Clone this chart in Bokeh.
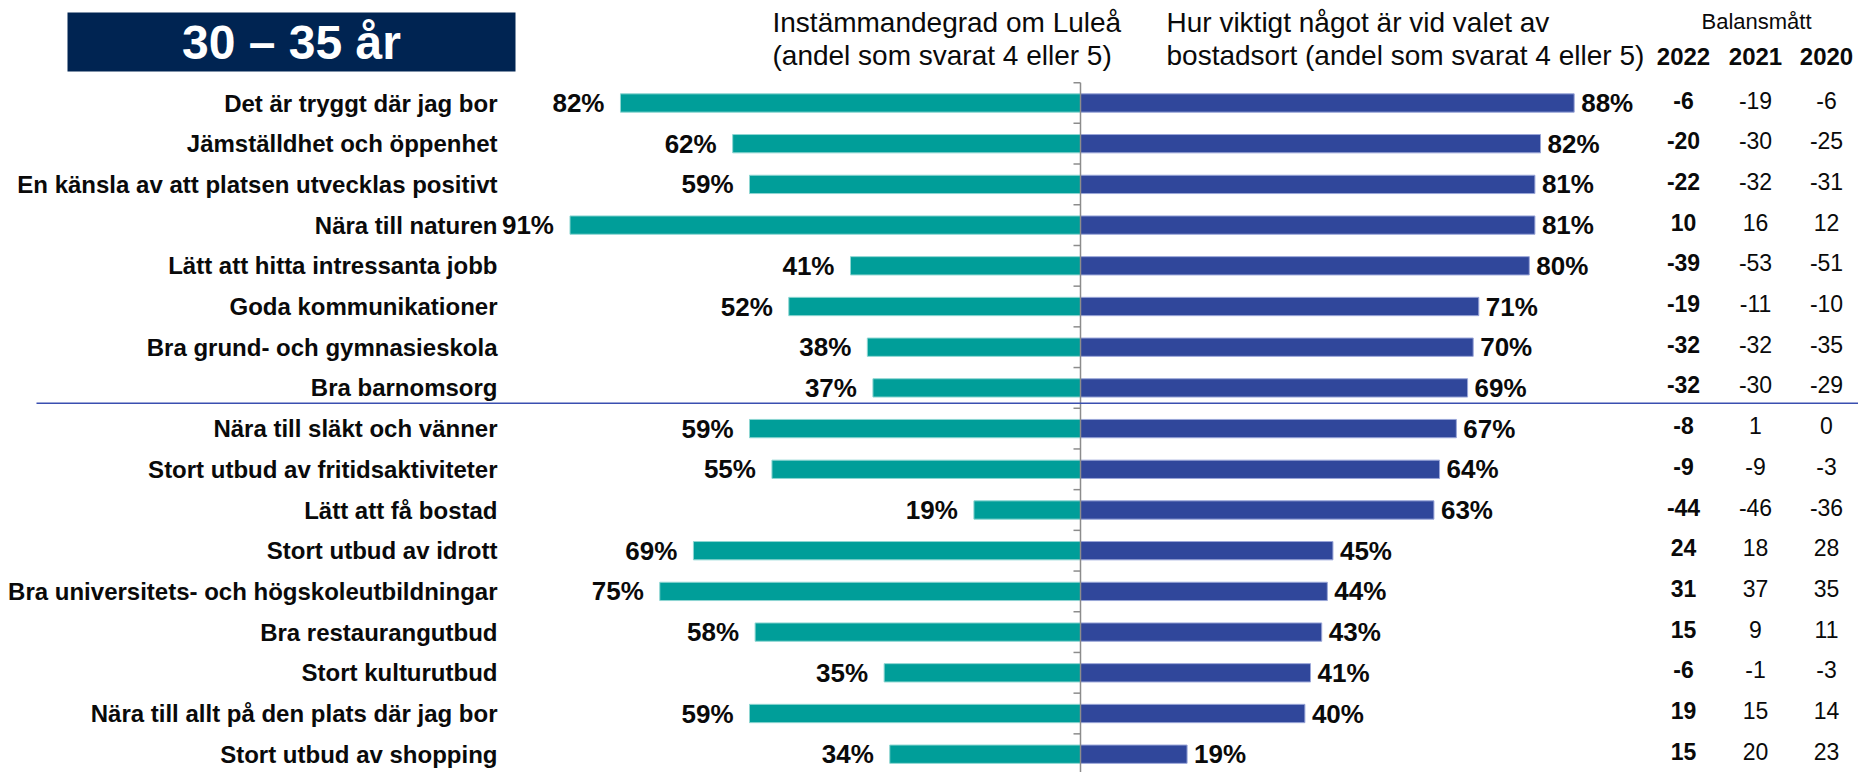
from bokeh.plotting import figure
from bokeh.models import Range1d, ColumnDataSource
from bokeh.embed import file_html
from bokeh.resources import INLINE
from bokeh.core.properties import value

# ---------------- data ----------------
categories = [
    "Det är tryggt där jag bor",
    "Jämställdhet och öppenhet",
    "En känsla av att platsen utvecklas positivt",
    "Nära till naturen",
    "Lätt att hitta intressanta jobb",
    "Goda kommunikationer",
    "Bra grund- och gymnasieskola",
    "Bra barnomsorg",
    "Nära till släkt och vänner",
    "Stort utbud av fritidsaktiviteter",
    "Lätt att få bostad",
    "Stort utbud av idrott",
    "Bra universitets- och högskoleutbildningar",
    "Bra restaurangutbud",
    "Stort kulturutbud",
    "Nära till allt på den plats där jag bor",
    "Stort utbud av shopping",
]
lulea = [82, 62, 59, 91, 41, 52, 38, 37, 59, 55, 19, 69, 75, 58, 35, 59, 34]
importance = [88, 82, 81, 81, 80, 71, 70, 69, 67, 64, 63, 45, 44, 43, 41, 40, 19]
bal_2022 = [-6, -20, -22, 10, -39, -19, -32, -32, -8, -9, -44, 24, 31, 15, -6, 19, 15]
bal_2021 = [-19, -30, -32, 16, -53, -11, -32, -30, 1, -9, -46, 18, 37, 9, -1, 15, 20]
bal_2020 = [-6, -25, -31, 12, -51, -10, -35, -29, 0, -3, -36, 28, 35, 11, -3, 14, 23]
years = ["2022", "2021", "2020"]
title_text = "30 – 35 år"
header_left = ["Instämmandegrad om Luleå", "(andel som svarat 4 eller 5)"]
header_right = ["Hur viktigt något är vid valet av", "bostadsort (andel som svarat 4 eller 5)"]
balance_title = "Balansmått"
n_top_group = 8  # rows above the separator line

# ---------------- layout ----------------
W, H = 1858, 772
PX_PER_PCT = 5.61
CENTER_PX = 1080.0
ROW_PX = 40.7
ROW0_PX = 102.5


def fx(px):
    return (px - CENTER_PX) / PX_PER_PCT


def fy(py):
    return (py - ROW0_PX) / ROW_PX


FONT = value("Liberation Sans")
TEAL = "#009E99"
BLUE = "#30479B"
NAVY = "#002452"
INK = "#0a0a0a"

p = figure(width=W, height=H,
           x_range=Range1d(fx(0), fx(W)),
           y_range=Range1d(fy(H), fy(0)),
           output_backend="svg", toolbar_location=None,
           x_axis_type=None, y_axis_type=None,
           min_border=0, min_border_left=0, min_border_right=0,
           min_border_top=0, min_border_bottom=0,
           outline_line_color=None, background_fill_color="white",
           border_fill_color="white")
p.grid.visible = False

rows = list(range(len(categories)))
src = ColumnDataSource(dict(
    y=rows,
    cat=categories,
    neg_lulea=[-v for v in lulea],
    imp=importance,
    lulea_lbl=[f"{v}%" for v in lulea],
    imp_lbl=[f"{v}%" for v in importance],
    lulea_x=[-v - 16 / PX_PER_PCT for v in lulea],
    imp_x=[v + 7 / PX_PER_PCT for v in importance],
    b22=[str(v) for v in bal_2022],
    b21=[str(v) for v in bal_2021],
    b20=[str(v) for v in bal_2020],
))

# title box
p.quad(left=[fx(67)], right=[fx(515)], top=[fy(12)], bottom=[fy(71)],
       fill_color=NAVY, line_color=None)
p.text(x=[fx(291)], y=[fy(42)], text=[title_text], text_color="white",
       text_font=FONT, text_font_style="bold", text_font_size="48px",
       text_align="center", text_baseline="middle")

# headers
for i, t in enumerate(header_left):
    p.text(x=[fx(772)], y=[fy(22 + 33 * i)], text=[t], text_font=FONT,
           text_font_size="28px", text_align="left", text_baseline="middle",
           text_color=INK)
for i, t in enumerate(header_right):
    p.text(x=[fx(1166)], y=[fy(22 + 33 * i)], text=[t], text_font=FONT,
           text_font_size="28px", text_align="left", text_baseline="middle",
           text_color=INK)
p.text(x=[fx(1756)], y=[fy(21)], text=[balance_title], text_font=FONT,
       text_font_size="22px", text_align="center", text_baseline="middle",
       text_color=INK)
col_px = [1683, 1755, 1826]
for yr, cx in zip(years, col_px):
    p.text(x=[fx(cx)], y=[fy(56)], text=[yr], text_font=FONT,
           text_font_style="bold", text_font_size="24px",
           text_align="center", text_baseline="middle", text_color=INK)

# bars
p.hbar(y="y", left="neg_lulea", right=0, height=0.45, source=src,
       fill_color=TEAL, line_color="#8ED6D2", line_width=1)
p.hbar(y="y", left=0, right="imp", height=0.45, source=src,
       fill_color=BLUE, line_color="#9AA6D8", line_width=1)

# center axis line and ticks
p.segment(x0=[0], x1=[0], y0=[-0.5], y1=[len(categories) + 0.5],
          line_color="#8C8C8C", line_width=1.5)
tick_y = [r - 0.5 for r in range(len(categories) + 1)]
p.segment(x0=[-7 / PX_PER_PCT] * len(tick_y), x1=[0] * len(tick_y),
          y0=tick_y, y1=tick_y, line_color="#8C8C8C", line_width=1.5)

# separator line
p.segment(x0=[fx(36)], x1=[fx(W)], y0=[n_top_group - 0.62],
          y1=[n_top_group - 0.62], line_color="#3A4FB0", line_width=1.5)

# category labels
p.text(x=fx(497), y="y", text="cat", source=src, text_font=FONT,
       text_font_style="bold", text_font_size="24px", text_align="right",
       text_baseline="middle", text_color=INK)

# percentage labels
p.text(x="lulea_x", y="y", text="lulea_lbl", source=src, text_font=FONT,
       text_font_style="bold", text_font_size="26px", text_align="right",
       text_baseline="middle", text_color=INK)
p.text(x="imp_x", y="y", text="imp_lbl", source=src, text_font=FONT,
       text_font_style="bold", text_font_size="26px", text_align="left",
       text_baseline="middle", text_color=INK)

# balance columns
for key, cx, style in zip(["b22", "b21", "b20"], col_px, ["bold", "normal", "normal"]):
    p.text(x=fx(cx), y="y", text=key, source=src, text_font=FONT,
           text_font_style=style, text_font_size="23px", text_align="center",
           text_baseline="middle", text_color=INK, y_offset=-3)

open("out.html", "w").write(file_html(p, INLINE))
